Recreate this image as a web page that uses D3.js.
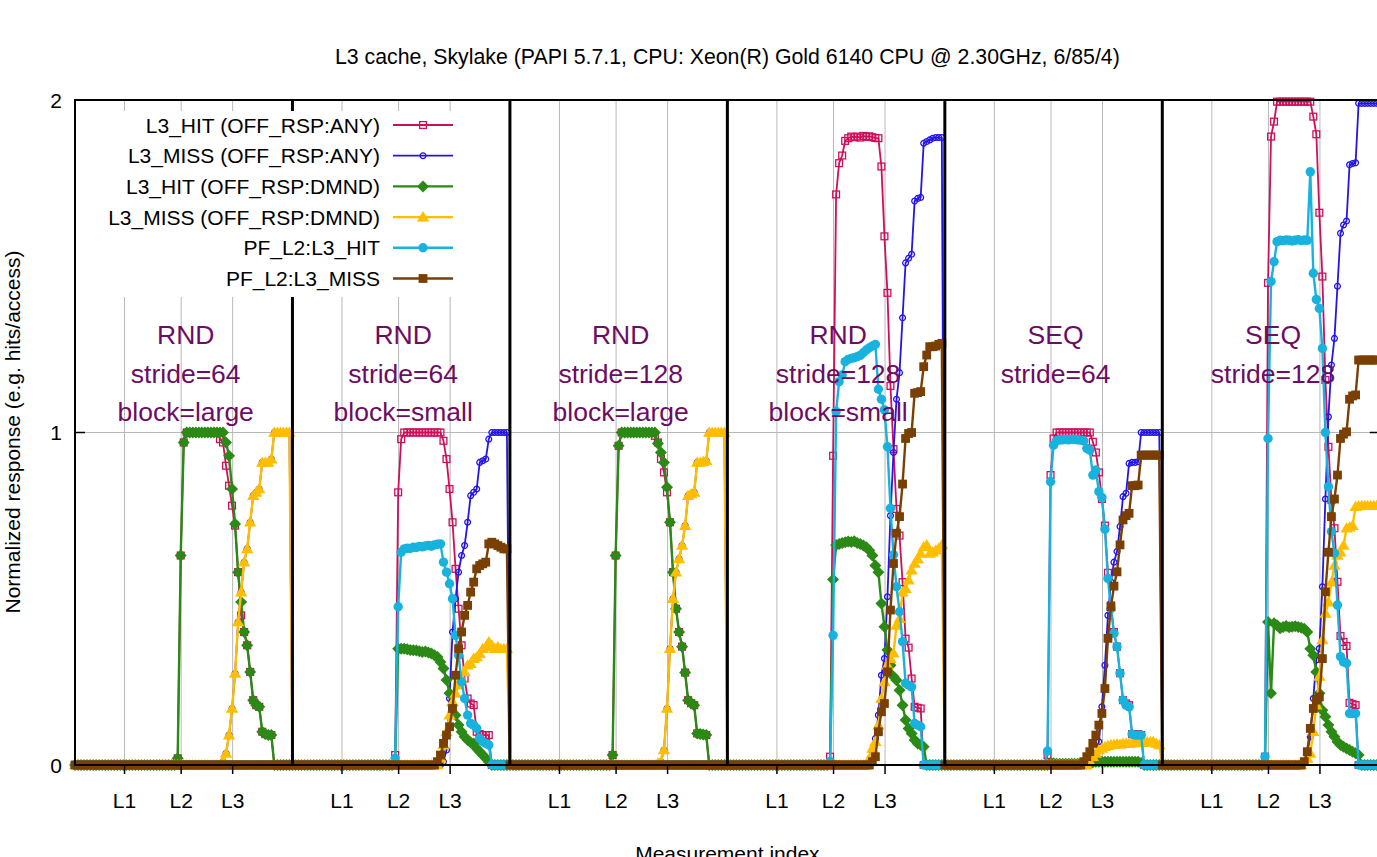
<!DOCTYPE html>
<html>
<head>
<meta charset="utf-8">
<script src="https://cdn.jsdelivr.net/npm/d3@7"></script>
<style>
body { margin: 0; background: #fff; }
svg { display: block; font-family: "Liberation Sans", Arial, sans-serif; }
</style>
</head>
<body>
<svg id="chart" width="1377" height="857"></svg>
<script>
// ---- data ----
var title = "L3 cache, Skylake (PAPI 5.7.1, CPU: Xeon(R) Gold 6140 CPU @ 2.30GHz, 6/85/4)";
var seriesNames = ["L3_HIT (OFF_RSP:ANY)", "L3_MISS (OFF_RSP:ANY)", "L3_HIT (OFF_RSP:DMND)",
  "L3_MISS (OFF_RSP:DMND)", "PF_L2:L3_HIT", "PF_L2:L3_MISS"];
var panelNotes = [["RND", "stride=64", "block=large"], ["RND", "stride=64", "block=small"],
  ["RND", "stride=128", "block=large"], ["RND", "stride=128", "block=small"],
  ["SEQ", "stride=64"], ["SEQ", "stride=128"]];
var cacheLabels = ["L1", "L2", "L3"];
var cachePos = [16.4, 35.15, 52.2];   // measurement index inside a panel
var yTicks = [0, 1, 2];
var pointsPerPanel = 72;

// one row of 72 measurements per panel
var l3HitAny = [
[0,0,0,0,0,0,0,0,0,0, 0,0,0,0,0,0,0,0,0,0, 0,0,0,0,0,0,0,0,0,0, 0,0,0,0, 0.02,0.63,0.97,1,1,1, 1,1,1,1,1,1,1,1,0.98,0.97, 0.9,0.84,0.78,0.72,0.58,0.45,0.4,0.36,0.28,0.195, 0.18,0.175,0.1,0.093,0.09,0.09,0,0,0,0, 0,0],
[0,0,0,0,0,0,0,0,0,0, 0,0,0,0,0,0,0,0,0,0, 0,0,0,0,0,0,0,0,0,0, 0,0,0,0, 0.03,0.82,0.98,1,1,1, 1,1,1,1,1,1,1,1,1,1, 0.975,0.92,0.83,0.73,0.59,0.47,0.36,0.26,0.2,0.185, 0.18,0.1,0.093,0.09,0.09,0.09,0,0,0,0, 0,0],
[0,0,0,0,0,0,0,0,0,0, 0,0,0,0,0,0,0,0,0,0, 0,0,0,0,0,0,0,0,0,0, 0,0,0,0, 0.03,0.63,0.96,1,1,1, 1,1,1,1,1,1,1,1,0.99,0.97, 0.92,0.88,0.82,0.73,0.58,0.47,0.4,0.356,0.278,0.195, 0.186,0.18,0.095,0.093,0.092,0.09,0,0,0,0, 0,0],
[0,0,0,0,0,0,0,0,0,0, 0,0,0,0,0,0,0,0,0,0, 0,0,0,0,0,0,0,0,0,0, 0,0,0,0, 0.025,0.93,1.716,1.81,1.833,1.877, 1.885,1.89,1.888,1.89,1.887,1.892,1.889,1.891,1.888,1.886, 1.885,1.8,1.59,1.42,1.14,0.95,0.77,0.69,0.55,0.38, 0.353,0.26,0.175,0.172,0.17,0,0,0,0,0, 0,0],
[0,0,0,0,0,0,0,0,0,0, 0,0,0,0,0,0,0,0,0,0, 0,0,0,0,0,0,0,0,0,0, 0,0,0,0, 0.03,0.872,0.982,1,1,1, 1,1,1,1,1,1,1,1,1,0.972, 0.94,0.88,0.8,0.72,0.578,0.48,0.4,0.356,0.276,0.195, 0.185,0.18,0.093,0.093,0.093,0.09,0,0,0,0, 0,0],
[0,0,0,0,0,0,0,0,0,0, 0,0,0,0,0,0,0,0,0,0, 0,0,0,0,0,0,0,0,0,0, 0,0,0,0, 0.025,1.45,1.89,1.935,1.995,1.995, 1.995,1.995,1.995,1.995,1.995,1.995,1.995,1.995,1.995,1.995, 1.95,1.897,1.661,1.469,1.158,0.957,0.797,0.712,0.551,0.388, 0.37,0.358,0.187,0.183,0.18,0,0,0,0,0, 0,0]
];
var l3MissAny = [
[0,0,0,0,0,0,0,0,0,0, 0,0,0,0,0,0,0,0,0,0, 0,0,0,0,0,0,0,0,0,0, 0,0,0,0,0,0,0,0,0,0, 0,0,0,0,0,0,0,0,0,0.01, 0.035,0.09,0.17,0.275,0.43,0.52,0.61,0.65,0.73,0.81, 0.82,0.83,0.91,0.91,0.91,0.92,1,1,1,1, 1,1],
[0,0,0,0,0,0,0,0,0,0, 0,0,0,0,0,0,0,0,0,0, 0,0,0,0,0,0,0,0,0,0, 0,0,0,0,0,0,0,0,0,0, 0,0,0,0,0,0,0,0,0,0, 0.01,0.045,0.2,0.4,0.5,0.58,0.63,0.66,0.73,0.81, 0.82,0.83,0.91,0.915,0.92,0.98,1,1,1,1, 1,1],
[0,0,0,0,0,0,0,0,0,0, 0,0,0,0,0,0,0,0,0,0, 0,0,0,0,0,0,0,0,0,0, 0,0,0,0,0,0,0,0,0,0, 0,0,0,0,0,0,0,0,0,0.005, 0.01,0.045,0.17,0.35,0.5,0.58,0.62,0.66,0.72,0.81, 0.815,0.82,0.91,0.91,0.912,0.915,1,1,1,1, 1,1],
[0,0,0,0,0,0,0,0,0,0, 0,0,0,0,0,0,0,0,0,0, 0,0,0,0,0,0,0,0,0,0, 0,0,0,0,0,0,0,0,0,0, 0,0,0,0,0,0,0,0.01,0.04,0.08, 0.15,0.27,0.32,0.506,0.75,0.94,1.1,1.18,1.345,1.51, 1.524,1.536,1.696,1.704,1.707,1.87,1.875,1.88,1.885,1.887, 1.887,1.887],
[0,0,0,0,0,0,0,0,0,0, 0,0,0,0,0,0,0,0,0,0, 0,0,0,0,0,0,0,0,0,0, 0,0,0,0,0,0,0,0,0,0, 0,0,0,0,0,0,0,0,0,0.01, 0.03,0.07,0.175,0.3,0.45,0.55,0.61,0.642,0.717,0.807, 0.817,0.907,0.91,0.91,0.912,1,1,1,1,1, 1,1],
[0,0,0,0,0,0,0,0,0,0, 0,0,0,0,0,0,0,0,0,0, 0,0,0,0,0,0,0,0,0,0, 0,0,0,0,0,0,0,0,0,0, 0,0,0,0,0,0,0,0.01,0.04,0.085, 0.2,0.316,0.35,0.536,0.8,1.047,1.203,1.283,1.44,1.599, 1.624,1.636,1.805,1.809,1.811,1.99,1.99,1.99,1.99,1.99, 1.99,1.99]
];
var l3HitDmnd = [
[0,0,0,0,0,0,0,0,0,0, 0,0,0,0,0,0,0,0,0,0, 0,0,0,0,0,0,0,0,0,0, 0,0,0,0, 0.02,0.63,0.97,1,1,1, 1,1,1,1,1,1,1,1,1,1, 0.97,0.93,0.83,0.725,0.58,0.49,0.4,0.36,0.28,0.195, 0.18,0.175,0.1,0.093,0.09,0.09,0,0,0,0, 0,0],
[0,0,0,0,0,0,0,0,0,0, 0,0,0,0,0,0,0,0,0,0, 0,0,0,0,0,0,0,0,0,0, 0,0,0,0, 0.01,0.35,0.35,0.35,0.348,0.346, 0.345,0.344,0.342,0.34,0.341,0.338,0.335,0.33,0.325,0.31, 0.29,0.256,0.216,0.18,0.15,0.12,0.1,0.085,0.075,0.068, 0.065,0.05,0.04,0.03,0.02,0.01,0,0,0,0, 0,0],
[0,0,0,0,0,0,0,0,0,0, 0,0,0,0,0,0,0,0,0,0, 0,0,0,0,0,0,0,0,0,0, 0,0,0,0, 0.03,0.63,0.96,1,1,1, 1,1,1,1,1,1,1,1,1,0.967, 0.94,0.91,0.835,0.73,0.58,0.47,0.4,0.356,0.278,0.195, 0.186,0.18,0.095,0.093,0.092,0.09,0,0,0,0, 0,0],
[0,0,0,0,0,0,0,0,0,0, 0,0,0,0,0,0,0,0,0,0, 0,0,0,0,0,0,0,0,0,0, 0,0,0,0, 0.01,0.558,0.662,0.665,0.668,0.67, 0.672,0.671,0.673,0.668,0.665,0.66,0.655,0.645,0.63,0.6, 0.58,0.486,0.416,0.346,0.3,0.266,0.255,0.225,0.18,0.135, 0.11,0.095,0.075,0.065,0.06,0.055,0,0,0,0, 0,0],
[0,0,0,0,0,0,0,0,0,0, 0,0,0,0,0,0,0,0,0,0, 0,0,0,0,0,0,0,0,0,0, 0,0,0,0, 0,0.006,0.005,0.004,0.004,0.004, 0.004,0.004,0.004,0.004,0.004,0.004,0.004,0.004,0.004,0.008, 0.01,0.01,0.01,0.01,0.01,0.01,0.01,0.01,0.01,0.01, 0.01,0.01,0.01,0.01,0.01,0.006,0,0,0,0, 0,0],
[0,0,0,0,0,0,0,0,0,0, 0,0,0,0,0,0,0,0,0,0, 0,0,0,0,0,0,0,0,0,0, 0,0,0,0, 0.01,0.43,0.216,0.426,0.42,0.411, 0.415,0.418,0.414,0.416,0.417,0.415,0.413,0.41,0.4,0.35, 0.33,0.28,0.216,0.165,0.145,0.12,0.1,0.085,0.07,0.06, 0.055,0.05,0.045,0.04,0.035,0.03,0,0,0,0, 0,0]
];
var l3MissDmnd = [
[0,0,0,0,0,0,0,0,0,0, 0,0,0,0,0,0,0,0,0,0, 0,0,0,0,0,0,0,0,0,0, 0,0,0,0,0,0,0,0,0,0, 0,0,0,0,0,0,0,0,0,0.01, 0.035,0.09,0.17,0.275,0.43,0.52,0.61,0.65,0.73,0.81, 0.82,0.83,0.91,0.91,0.91,0.92,1,1,1,1, 1,1],
[0,0,0,0,0,0,0,0,0,0, 0,0,0,0,0,0,0,0,0,0, 0,0,0,0,0,0,0,0,0,0, 0,0,0,0,0,0,0,0,0,0, 0,0,0,0,0,0,0,0,0,0.02, 0.06,0.1,0.15,0.19,0.215,0.24,0.26,0.28,0.3,0.305, 0.32,0.325,0.335,0.35,0.355,0.37,0.36,0.35,0.355,0.35, 0.35,0.35],
[0,0,0,0,0,0,0,0,0,0, 0,0,0,0,0,0,0,0,0,0, 0,0,0,0,0,0,0,0,0,0, 0,0,0,0,0,0,0,0,0,0, 0,0,0,0,0,0,0,0,0,0.005, 0.01,0.045,0.17,0.35,0.5,0.58,0.62,0.66,0.72,0.81, 0.815,0.82,0.91,0.91,0.912,0.915,1,1,1,1, 1,1],
[0,0,0,0,0,0,0,0,0,0, 0,0,0,0,0,0,0,0,0,0, 0,0,0,0,0,0,0,0,0,0, 0,0,0,0,0,0,0,0,0,0, 0,0,0,0,0,0,0,0.02,0.05,0.07, 0.12,0.2,0.25,0.3,0.32,0.336,0.42,0.44,0.52,0.53, 0.556,0.586,0.606,0.62,0.636,0.656,0.662,0.636,0.64,0.646, 0.652,0.662],
[0,0,0,0,0,0,0,0,0,0, 0,0,0,0,0,0,0,0,0,0, 0,0,0,0,0,0,0,0,0,0, 0,0,0,0,0,0,0,0,0,0, 0,0,0,0,0,0,0,0,0.01,0.025, 0.035,0.045,0.05,0.055,0.058,0.06,0.062,0.063,0.062,0.065, 0.065,0.064,0.066,0.066,0.067,0.068,0.067,0.069,0.07,0.07, 0.065,0.06],
[0,0,0,0,0,0,0,0,0,0, 0,0,0,0,0,0,0,0,0,0, 0,0,0,0,0,0,0,0,0,0, 0,0,0,0,0,0,0,0,0,0, 0,0,0,0,0,0,0,0.01,0.02,0.035, 0.1,0.18,0.266,0.376,0.456,0.49,0.55,0.6,0.63,0.64, 0.66,0.712,0.715,0.72,0.777,0.779,0.78,0.78,0.78,0.78, 0.78,0.78]
];
var pfL3Hit = [
[0,0,0,0,0,0,0,0,0,0, 0,0,0,0,0,0,0,0,0,0, 0,0,0,0,0,0,0,0,0,0, 0,0,0,0,0,0,0,0,0,0, 0,0,0,0,0,0,0,0,0,0, 0,0,0,0,0,0,0,0,0,0, 0,0,0,0,0,0,0,0,0,0, 0,0],
[0,0,0,0,0,0,0,0,0,0, 0,0,0,0,0,0,0,0,0,0, 0,0,0,0,0,0,0,0,0,0, 0,0,0,0, 0.02,0.476,0.64,0.65,0.652,0.651, 0.655,0.654,0.657,0.656,0.659,0.66,0.658,0.662,0.664,0.665, 0.61,0.58,0.545,0.5,0.39,0.33,0.25,0.2,0.15,0.125, 0.12,0.11,0.08,0.07,0.065,0.06,0,0,0,0, 0,0],
[0,0,0,0,0,0,0,0,0,0, 0,0,0,0,0,0,0,0,0,0, 0,0,0,0,0,0,0,0,0,0, 0,0,0,0,0,0,0,0,0,0, 0,0,0,0,0,0,0,0,0,0, 0,0,0,0,0,0,0,0,0,0, 0,0,0,0,0,0,0,0,0,0, 0,0],
[0,0,0,0,0,0,0,0,0,0, 0,0,0,0,0,0,0,0,0,0, 0,0,0,0,0,0,0,0,0,0, 0,0,0,0, 0.01,0.39,1.063,1.153,1.173,1.213, 1.22,1.223,1.225,1.228,1.232,1.24,1.248,1.255,1.26,1.265, 1.13,1.1,1.068,0.957,0.772,0.632,0.536,0.461,0.371,0.246, 0.24,0.235,0.125,0.12,0.115,0,0,0,0,0, 0,0],
[0,0,0,0,0,0,0,0,0,0, 0,0,0,0,0,0,0,0,0,0, 0,0,0,0,0,0,0,0,0,0, 0,0,0,0, 0.042,0.852,0.962,0.975,0.978,0.978, 0.979,0.978,0.98,0.979,0.978,0.977,0.975,0.952,0.947,0.872, 0.887,0.822,0.805,0.709,0.561,0.47,0.396,0.356,0.276,0.195, 0.18,0.175,0.093,0.09,0.09,0.09,0,0,0,0, 0,0],
[0,0,0,0,0,0,0,0,0,0, 0,0,0,0,0,0,0,0,0,0, 0,0,0,0,0,0,0,0,0,0, 0,0,0,0, 0.025,0.982,1.454,1.514,1.574,1.578, 1.577,1.579,1.578,1.576,1.578,1.58,1.577,1.579,1.578,1.784, 1.479,1.4,1.373,1.253,1,0.837,0.702,0.637,0.481,0.326, 0.31,0.306,0.155,0.155,0.155,0,0,0,0,0, 0,0]
];
var pfL3Miss = [
[0,0,0,0,0,0,0,0,0,0, 0,0,0,0,0,0,0,0,0,0, 0,0,0,0,0,0,0,0,0,0, 0,0,0,0,0,0,0,0,0,0, 0,0,0,0,0,0,0,0,0,0, 0,0,0,0,0,0,0,0,0,0, 0,0,0,0,0,0,0,0,0,0, 0,0],
[0,0,0,0,0,0,0,0,0,0, 0,0,0,0,0,0,0,0,0,0, 0,0,0,0,0,0,0,0,0,0, 0,0,0,0,0,0,0,0,0,0, 0,0,0,0,0,0,0,0,0.01,0.03, 0.065,0.09,0.115,0.17,0.27,0.35,0.4,0.45,0.48,0.52, 0.55,0.59,0.6,0.605,0.61,0.665,0.67,0.665,0.66,0.655, 0.65,0.65],
[0,0,0,0,0,0,0,0,0,0, 0,0,0,0,0,0,0,0,0,0, 0,0,0,0,0,0,0,0,0,0, 0,0,0,0,0,0,0,0,0,0, 0,0,0,0,0,0,0,0,0,0, 0,0,0,0,0,0,0,0,0,0, 0,0,0,0,0,0,0,0,0,0, 0,0],
[0,0,0,0,0,0,0,0,0,0, 0,0,0,0,0,0,0,0,0,0, 0,0,0,0,0,0,0,0,0,0, 0,0,0,0,0,0,0,0,0,0, 0,0,0,0,0,0,0,0,0.01,0.025, 0.1,0.16,0.185,0.28,0.466,0.606,0.697,0.747,0.845,0.982, 0.997,1,1.118,1.12,1.123,1.198,1.233,1.258,1.258,1.26, 1.265,1.268],
[0,0,0,0,0,0,0,0,0,0, 0,0,0,0,0,0,0,0,0,0, 0,0,0,0,0,0,0,0,0,0, 0,0,0,0,0,0,0,0,0,0, 0,0,0,0,0,0,0.01,0.025,0.04,0.065, 0.09,0.12,0.155,0.23,0.381,0.476,0.538,0.581,0.662,0.737, 0.75,0.757,0.84,0.84,0.842,0.932,0.932,0.932,0.932,0.932, 0.932,0.932],
[0,0,0,0,0,0,0,0,0,0, 0,0,0,0,0,0,0,0,0,0, 0,0,0,0,0,0,0,0,0,0, 0,0,0,0,0,0,0,0,0,0, 0,0,0,0,0,0,0,0.01,0.04,0.11, 0.17,0.195,0.205,0.32,0.521,0.64,0.747,0.8,0.872,0.982, 0.995,1.002,1.1,1.11,1.113,1.218,1.218,1.218,1.218,1.218, 1.218,1.218]
];

// ---- layout ----
var svg = d3.select("#chart");
var plotLeft = 75, plotTop = 100, plotBottom = 765;
var panelW = 217.46;
var nPanels = panelNotes.length;
var fontSize = 21;

var x = d3.scaleLinear().domain([0, nPanels * pointsPerPanel]).range([plotLeft, plotLeft + nPanels * panelW]);
var y = d3.scaleLinear().domain([0, 2]).range([plotBottom, plotTop]);
var plotRight = x.range()[1];

// marker shapes, centred on 0,0
function marker(g, kind, color) {
  if (kind == "openSquare") {
    g.append("rect").attr("x", -3.4).attr("y", -3.4).attr("width", 6.8).attr("height", 6.8)
      .attr("fill", "none").attr("stroke", color).attr("stroke-width", 1.3);
  } else if (kind == "openCircle") {
    g.append("circle").attr("r", 2.9).attr("fill", "none").attr("stroke", color).attr("stroke-width", 1.3);
  } else if (kind == "diamond") {
    g.append("path").attr("d", "M0,-6L6,0L0,6L-6,0Z").attr("fill", color);
  } else if (kind == "triangle") {
    g.append("path").attr("d", "M0,-6L6.2,4.3L-6.2,4.3Z").attr("fill", color);
  } else if (kind == "dot") {
    g.append("circle").attr("r", 4.7).attr("fill", color);
  } else {
    g.append("rect").attr("x", -4.4).attr("y", -4.4).attr("width", 8.8).attr("height", 8.8).attr("fill", color);
  }
}

var series = [
  {data: l3HitAny,   color: "#cf0f5b", width: 1.8, mark: "openSquare"},
  {data: l3MissAny,  color: "#2415e6", width: 1.8, mark: "openCircle"},
  {data: l3HitDmnd,  color: "#2b8a15", width: 2.4, mark: "diamond"},
  {data: l3MissDmnd, color: "#ffbd00", width: 2.4, mark: "triangle"},
  {data: pfL3Hit,    color: "#18b2de", width: 2.4, mark: "dot"},
  {data: pfL3Miss,   color: "#7a3f02", width: 2.4, mark: "square"}
];

series.forEach(function(s, k) {
  s.data.forEach(function(row, p) {
    if (row.length != pointsPerPanel) throw new Error(seriesNames[k] + " panel " + p + " has " + row.length);
  });
});

// grid
for (var p = 0; p < nPanels; p++) {
  for (var c = 0; c < cachePos.length; c++) {
    var gx = x(p * pointsPerPanel + cachePos[c]);
    svg.append("line").attr("x1", gx).attr("x2", gx).attr("y1", plotTop).attr("y2", plotBottom)
      .attr("stroke", "#b8b8b8").attr("stroke-width", 1);
  }
}
svg.append("line").attr("x1", plotLeft).attr("x2", plotRight).attr("y1", y(1)).attr("y2", y(1))
  .attr("stroke", "#b8b8b8").attr("stroke-width", 1);

// data, one continuous line through all panels
var line = d3.line().x(function(d) { return x(d[0]); }).y(function(d) { return y(d[1]); });

series.forEach(function(s) {
  var pts = [];
  s.data.forEach(function(row, p) {
    row.forEach(function(v, i) { pts.push([p * pointsPerPanel + i, v]); });
  });
  svg.append("path").datum(pts).attr("d", line)
    .attr("fill", "none").attr("stroke", s.color).attr("stroke-width", s.width)
    .attr("stroke-linejoin", "round");
  pts.forEach(function(d) {
    var g = svg.append("g").attr("transform", "translate(" + x(d[0]) + "," + y(d[1]) + ")");
    marker(g, s.mark, s.color);
  });
});

// panel separators
for (var p = 1; p < nPanels; p++) {
  svg.append("line").attr("x1", x(p * pointsPerPanel)).attr("x2", x(p * pointsPerPanel))
    .attr("y1", plotTop).attr("y2", plotBottom).attr("stroke", "#000").attr("stroke-width", 3);
}

// legend
svg.append("rect").attr("x", 76).attr("y", 111).attr("width", 388).attr("height", 186).attr("fill", "#fff");
seriesNames.forEach(function(name, k) {
  var ly = 125 + k * 30.7;
  svg.append("text").attr("x", 380).attr("y", ly + 7.5).attr("text-anchor", "end")
    .attr("font-size", fontSize).attr("fill", "#000").text(name);
  svg.append("line").attr("x1", 393).attr("x2", 453).attr("y1", ly).attr("y2", ly)
    .attr("stroke", series[k].color).attr("stroke-width", series[k].width);
  var g = svg.append("g").attr("transform", "translate(423," + ly + ")");
  marker(g, series[k].mark, series[k].color);
});

// panel annotations
panelNotes.forEach(function(lines, p) {
  var cx = x(p * pointsPerPanel + pointsPerPanel / 2) + 2;
  lines.forEach(function(t, j) {
    svg.append("text").attr("x", cx).attr("y", 344 + j * 38.5).attr("text-anchor", "middle")
      .attr("font-size", 26.5).attr("fill", "#6c0c64").text(t);
  });
});

// border and ticks
svg.append("rect").attr("x", plotLeft).attr("y", plotTop).attr("width", plotRight - plotLeft)
  .attr("height", plotBottom - plotTop).attr("fill", "none").attr("stroke", "#000").attr("stroke-width", 2);

yTicks.forEach(function(v) {
  svg.append("line").attr("x1", plotLeft).attr("x2", plotLeft + 10).attr("y1", y(v)).attr("y2", y(v))
    .attr("stroke", "#000").attr("stroke-width", 1.5);
  svg.append("line").attr("x1", plotRight - 10).attr("x2", plotRight).attr("y1", y(v)).attr("y2", y(v))
    .attr("stroke", "#000").attr("stroke-width", 1.5);
  svg.append("text").attr("x", 62).attr("y", y(v) + 7.5).attr("text-anchor", "end")
    .attr("font-size", fontSize).text(v);
});

for (var p = 0; p < nPanels; p++) {
  cacheLabels.forEach(function(lab, c) {
    var tx = x(p * pointsPerPanel + cachePos[c]);
    svg.append("line").attr("x1", tx).attr("x2", tx).attr("y1", plotBottom).attr("y2", plotBottom + 9)
      .attr("stroke", "#000").attr("stroke-width", 1.5);
    svg.append("text").attr("x", tx).attr("y", 808).attr("text-anchor", "middle")
      .attr("font-size", fontSize).text(lab);
  });
}

// titles
svg.append("text").attr("x", (plotLeft + plotRight) / 2).attr("y", 64).attr("text-anchor", "middle")
  .attr("font-size", 21.3).text(title);
svg.append("text").attr("transform", "translate(20,432) rotate(-90)").attr("text-anchor", "middle")
  .attr("font-size", fontSize).text("Normalized response (e.g. hits/access)");
svg.append("text").attr("x", (plotLeft + plotRight) / 2).attr("y", 861).attr("text-anchor", "middle")
  .attr("font-size", fontSize).text("Measurement index");
</script>
</body>
</html>
